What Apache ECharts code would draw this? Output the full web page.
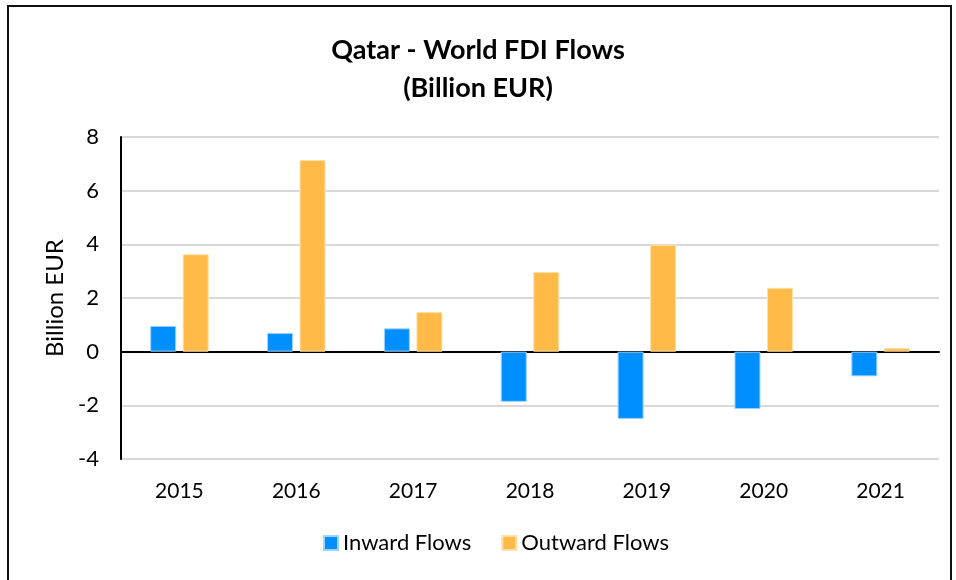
<!DOCTYPE html>
<html><head><meta charset="utf-8">
<script src="https://cdn.jsdelivr.net/npm/echarts@6/dist/echarts.min.js"></script>
<style>html,body{margin:0;padding:0;background:#fff}#c{width:956px;height:580px}</style>
</head><body><div id="c"></div>
<script>
const years = ['2015','2016','2017','2018','2019','2020','2021'];
const inwardFlows = [0.96, 0.70, 0.87, -1.87, -2.51, -2.14, -0.92];
const outwardFlows = [3.63, 7.14, 1.48, 2.97, 3.98, 2.38, 0.13];
const yTicks = [-4, -2, 0, 2, 4, 6, 8];

const font = 'Lato, "Open Sans", sans-serif';
const chart = echarts.init(document.getElementById('c'), null, {renderer: 'canvas'});
chart.setOption({
  backgroundColor: '#fff',
  animation: false,
  title: {
    text: 'Qatar - World FDI Flows\n(Billion EUR)',
    left: 'center', top: 26,
    textStyle: {fontFamily: font, fontWeight: 'bold', fontSize: 27, lineHeight: 38, color: '#000'}
  },
  legend: {
    bottom: 21, left: 318,
    itemWidth: 14, itemHeight: 14, itemGap: 30,
    icon: 'rect',
    textStyle: {fontFamily: font, fontSize: 22, color: '#000'},
    data: ['Inward Flows', 'Outward Flows']
  },
  grid: {left: 121, right: 17, top: 137, bottom: 121},
  xAxis: {
    type: 'category', data: years,
    axisLine: {onZero: true, lineStyle: {color: '#000', width: 2}},
    axisTick: {show: false},
    axisLabel: {fontFamily: font, fontSize: 21, color: '#000', margin: 22},
    splitLine: {show: false}
  },
  yAxis: {
    type: 'value', min: yTicks[0], max: yTicks[yTicks.length - 1], interval: 2,
    name: 'Billion EUR', nameLocation: 'middle', nameGap: 54, nameRotate: 90,
    nameTextStyle: {fontFamily: font, fontSize: 24, color: '#000'},
    axisLine: {show: true, lineStyle: {color: '#000', width: 2}},
    axisTick: {show: false},
    axisLabel: {fontFamily: font, fontSize: 22, color: '#000', margin: 22},
    splitLine: {lineStyle: {color: '#d9d9d9', width: 2}}
  },
  series: [
    {name: 'Inward Flows', type: 'bar', data: inwardFlows, barWidth: 26, barGap: '25%',
     itemStyle: {color: '#008FFF', borderColor: '#9fd2ff', borderWidth: 1}},
    {name: 'Outward Flows', type: 'bar', data: outwardFlows, barWidth: 26,
     itemStyle: {color: '#FFBA47', borderColor: '#ffe0a8', borderWidth: 1}}
  ],
  graphic: [{
    type: 'rect', shape: {x: 8, y: 6, width: 943, height: 600},
    style: {fill: 'none', stroke: '#111', lineWidth: 2}, silent: true, z: 100
  }]
});
</script></body></html>
